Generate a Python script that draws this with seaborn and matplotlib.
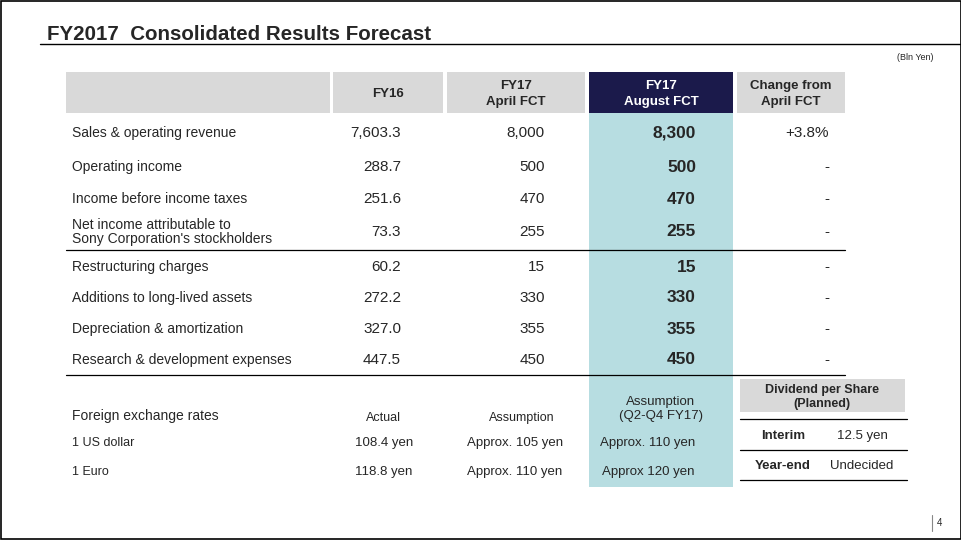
import matplotlib

matplotlib.use("Agg")
import matplotlib.pyplot as plt
import seaborn as sns
from matplotlib.patches import Rectangle

sns.set_theme(style="white", font="Liberation Sans")

# --- data ---
row_labels = [
    "Sales & operating revenue",
    "Operating income",
    "Income before income taxes",
    "Net income attributable to\nSony Corporation's stockholders",
    "Restructuring charges",
    "Additions to long-lived assets",
    "Depreciation & amortization",
    "Research & development expenses",
]
fy16 = ["7,603.3", "288.7", "251.6", "73.3", "60.2", "272.2", "327.0", "447.5"]
fy17_april = ["8,000", "500", "470", "255", "15", "330", "355", "450"]
fy17_august = ["8,300", "500", "470", "255", "15", "330", "355", "450"]
change = ["+3.8%", "-", "-", "-", "-", "-", "-", "-"]
row_y = [133, 167, 199, 232, 267, 298, 329, 360]

fx_labels = ["1 US dollar", "1 Euro"]
fx_actual = ["108.4 yen", "118.8 yen"]
fx_april = ["Approx. 105 yen", "Approx. 110 yen"]
fx_august = ["Approx. 110 yen", "Approx 120 yen"]
fx_y = [443, 472]

dividend_labels = ["Interim", "Year-end"]
dividend_values = ["12.5 yen", "Undecided"]
dividend_y = [436, 466]

GREY = "#d9d9d9"
NAVY = "#1b1a4b"
TEAL = "#b7dde1"

fig = plt.figure(figsize=(9.62, 5.4), dpi=100)
ax = fig.add_axes([0, 0, 1, 1])
ax.set_xlim(0, 962)
ax.set_ylim(540, 0)
ax.axis("off")

# frame
ax.add_patch(Rectangle((1, 1), 960, 538, fill=False, lw=1.2, ec="black"))

# title
ax.text(47, 34, "FY2017  Consolidated Results Forecast", fontsize=14.8,
        fontweight="bold", va="center", ha="left")
ax.plot([40, 962], [44, 44], color="black", lw=1)
ax.text(934, 57, "(Bln Yen)", fontsize=6.5, ha="right", va="center")

# header boxes
ax.add_patch(Rectangle((66, 72), 264, 41, color=GREY, lw=0))
ax.add_patch(Rectangle((333, 72), 110, 41, color=GREY, lw=0))
ax.add_patch(Rectangle((447, 72), 138, 41, color=GREY, lw=0))
ax.add_patch(Rectangle((589, 72), 144, 41, color=NAVY, lw=0))
ax.add_patch(Rectangle((737, 72), 108, 41, color=GREY, lw=0))
ax.add_patch(Rectangle((589, 113), 144, 374, color=TEAL, lw=0))

hdr = dict(fontsize=9.5, fontweight="bold", ha="center", va="center", linespacing=1.35)
ax.text(388, 94, "FY16", **hdr)
ax.text(516, 94, "FY17\nApril FCT", **hdr)
ax.text(661, 94, "FY17\nAugust FCT", color="white", **hdr)
ax.text(791, 94, "Change from\nApril FCT", **hdr)

# main rows
for i, y in enumerate(row_y):
    ax.text(72, y, row_labels[i], fontsize=10, va="center", ha="left", linespacing=1.0)
    ax.text(401, y, fy16[i], fontsize=11, va="center", ha="right")
    ax.text(545, y, fy17_april[i], fontsize=11, va="center", ha="right")
    ax.text(696, y, fy17_august[i], fontsize=12.5, fontweight="bold", va="center", ha="right")
    ax.text(829, y, change[i], fontsize=11, va="center", ha="right")

ax.plot([66, 845], [250, 250], color="black", lw=0.9)
ax.plot([66, 845], [375, 375], color="black", lw=0.9)

# foreign exchange section
ax.text(72, 416, "Foreign exchange rates", fontsize=10, va="center")
ax.text(383, 418, "Actual", fontsize=9, ha="center", va="center")
ax.text(522, 418, "Assumption", fontsize=9, ha="center", va="center")
ax.text(661, 409, "Assumption\n(Q2-Q4 FY17)", fontsize=9.5, ha="center", va="center",
        linespacing=1.2)
for i, y in enumerate(fx_y):
    ax.text(72, y, fx_labels[i], fontsize=9, va="center")
    ax.text(384, y, fx_actual[i], fontsize=9.5, ha="center", va="center")
    ax.text(515, y, fx_april[i], fontsize=9.5, ha="center", va="center")
    ax.text(648, y, fx_august[i], fontsize=9.5, ha="center", va="center")

# dividend box
ax.add_patch(Rectangle((740, 379), 165, 33, color=GREY, lw=0))
ax.text(822, 397, "Dividend per Share\n(Planned)", fontsize=9, fontweight="bold",
        ha="center", va="center", linespacing=1.2)
for yl in [419, 450, 480]:
    ax.plot([740, 907], [yl, yl], color="black", lw=0.9)
for i, y in enumerate(dividend_y):
    ax.text(783, y, dividend_labels[i], fontsize=9.5, fontweight="bold",
            ha="center", va="center")
    ax.text(862, y, dividend_values[i], fontsize=9.5, ha="center", va="center")

# page number
ax.plot([932, 932], [515, 531], color="#888888", lw=0.8)
ax.text(940, 523, "4", fontsize=7, ha="center", va="center")

fig.savefig("out.png", dpi=100)
